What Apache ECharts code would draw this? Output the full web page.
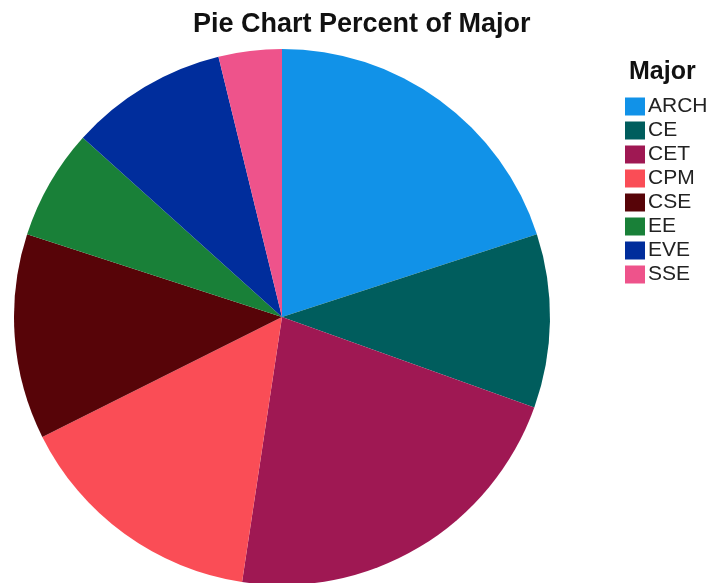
<!DOCTYPE html>
<html>
<head>
<meta charset="utf-8">
<script src="https://cdn.jsdelivr.net/npm/echarts@6/dist/echarts.min.js"></script>
<style>
  html, body { margin: 0; padding: 0; background: #fff; }
  #chart { width: 709px; height: 583px; }
</style>
</head>
<body>
<div id="chart"></div>
<script>
// number of students per major
const majors = ['ARCH', 'CE', 'CET', 'CPM', 'CSE', 'EE', 'EVE', 'SSE']
const counts = [21, 11, 23, 16, 13, 7, 10, 4]
const colors = ['#1192e8', '#005d5d', '#9f1853', '#fa4d56', '#570408', '#198038', '#002d9c', '#ee538b']

const chart = echarts.init(document.getElementById('chart'))

const option = {
  animation: false,
  color: colors,
  title: [
    {
      text: 'Pie Chart Percent of Major',
      left: 188,
      top: 6,
      textStyle: { fontFamily: 'Liberation Sans', fontSize: 27, fontWeight: 'bold', color: '#111' }
    },
    {
      // legend heading
      text: 'Major',
      left: 624,
      top: 55,
      textStyle: { fontFamily: 'Liberation Sans', fontSize: 25, fontWeight: 'bold', color: '#111' }
    }
  ],
  legend: {
    orient: 'vertical',
    left: 620,
    top: 91,
    itemWidth: 20,
    itemHeight: 18,
    itemGap: 3,
    icon: 'rect',
    selectedMode: false,
    data: majors,
    textStyle: { fontFamily: 'Liberation Sans', fontSize: 21, color: '#222', lineHeight: 18, padding: [0, 0, 0, -2] }
  },
  series: [
    {
      type: 'pie',
      center: [282, 317],
      radius: 268,
      startAngle: 90,
      clockwise: true,
      label: { show: false },
      labelLine: { show: false },
      itemStyle: { borderWidth: 0 },
      emphasis: { disabled: true },
      data: majors.map((m, i) => ({ name: m, value: counts[i] }))
    }
  ]
}

chart.setOption(option)
</script>
</body>
</html>
